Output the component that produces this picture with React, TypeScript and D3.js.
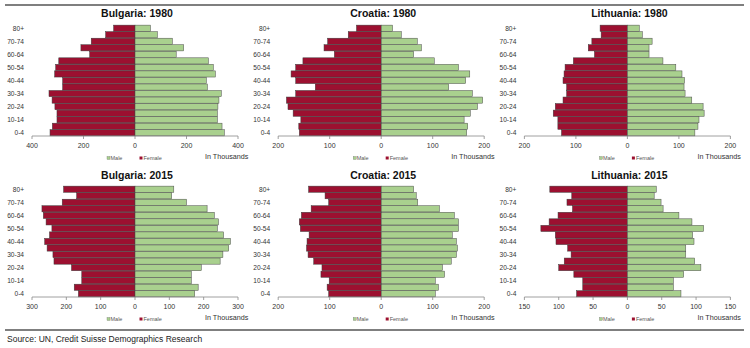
import React from "react";
import * as d3 from "d3";

const ageGroups = ["0-4","5-9","10-14","15-19","20-24","25-29","30-34","35-39","40-44","45-49","50-54","55-59","60-64","65-69","70-74","75-79","80+"];

const bulgaria1980Female = [330,321,303,303,311,322,334,281,281,312,308,296,176,210,170,114,83];
const bulgaria1980Male = [347,338,320,320,322,326,335,281,277,312,304,285,160,189,145,87,60];
const croatia1980Female = [159,160,156,171,181,184,166,128,166,175,166,152,91,111,104,64,48];
const croatia1980Male = [166,168,161,173,187,197,177,131,164,172,150,103,63,78,70,39,22];
const lithuania1980Female = [128,135,135,144,140,125,118,118,125,123,121,105,64,76,69,51,53];
const lithuania1980Male = [131,137,139,149,147,125,112,110,111,106,94,69,42,42,48,29,23];
const bulgaria2015Female = [165,177,155,155,185,236,239,256,263,249,242,259,267,271,212,170,208];
const bulgaria2015Male = [174,184,164,164,193,248,256,273,278,258,240,243,231,210,150,107,113];
const croatia2015Female = [102,105,101,117,115,131,142,145,144,140,157,159,155,136,102,109,141];
const croatia2015Male = [105,111,105,123,119,136,146,148,146,138,150,150,142,113,71,68,63];
const lithuania2015Female = [74,65,65,78,100,92,82,87,104,105,126,114,101,80,88,81,113];
const lithuania2015Male = [78,67,67,82,107,98,85,85,97,95,111,94,75,52,49,39,42];

const titles = ["Bulgaria: 1980","Croatia: 1980","Lithuania: 1980","Bulgaria: 2015","Croatia: 2015","Lithuania: 2015"];
const axisMax = [400, 200, 200, 300, 200, 150];
const tickStep = [200, 100, 100, 100, 100, 50];
const femaleSeries = [bulgaria1980Female, croatia1980Female, lithuania1980Female, bulgaria2015Female, croatia2015Female, lithuania2015Female];
const maleSeries = [bulgaria1980Male, croatia1980Male, lithuania1980Male, bulgaria2015Male, croatia2015Male, lithuania2015Male];
const legendLabels = ["Male", "Female"];
const unitLabel = "In Thousands";
const sourceText = "Source: UN, Credit Suisse Demographics Research";

const FEMALE = "#9C1030";
const MALE = "#A9D08E";
const FONT = "'Liberation Sans', Arial, sans-serif";

function Panel({ idx }: { idx: number }) {
  const col = idx % 3;
  const row = Math.floor(idx / 3);
  const cx = 135 + col * 246.2;
  const top = row === 0 ? 25 : 186;
  const bottom = row === 0 ? 136 : 297;
  const half = 103;
  const maxV = axisMax[idx];
  const x = d3.scaleLinear().domain([-maxV, maxV]).range([cx - half, cx + half]);
  const y = d3.scaleBand<string>().domain([...ageGroups].reverse()).range([top, bottom]).paddingInner(0.06).paddingOuter(0.02);
  const ticks = d3.range(-maxV, maxV + 0.001, tickStep[idx]);
  const fem = femaleSeries[idx];
  const mal = maleSeries[idx];
  const titleY = row === 0 ? 17 : 179;
  return (
    <g>
      <text x={cx + 2} y={titleY} textAnchor="middle" fontFamily={FONT} fontWeight="bold" fontSize={10.5} fill="#111">{titles[idx]}</text>
      {ageGroups.map((a, i) => (
        <rect key={"f" + a} x={x(-fem[i])} y={y(a)!} width={x(0) - x(-fem[i])} height={y.bandwidth()} fill={FEMALE} stroke="#3a3a3a" strokeWidth={0.5} />
      ))}
      {ageGroups.map((a, i) => (
        <rect key={"m" + a} x={x(0)} y={y(a)!} width={x(mal[i]) - x(0)} height={y.bandwidth()} fill={MALE} stroke="#4a4a4a" strokeWidth={0.5} />
      ))}
      {ageGroups.map((a, i) => i % 2 === 0 ? (
        <text key={"l" + a} x={cx - half - 8} y={y(a)! + y.bandwidth() / 2 + 2.3} textAnchor="end" fontFamily={FONT} fontSize={6.6} fill="#333">{a}</text>
      ) : null)}
      <line x1={cx - half} x2={cx + half} y1={bottom} y2={bottom} stroke="#888" strokeWidth={0.8} />
      {ticks.map((t) => (
        <g key={"t" + t}>
          <line x1={x(t)} x2={x(t)} y1={bottom} y2={bottom + 3} stroke="#888" strokeWidth={0.8} />
          <text x={x(t)} y={bottom + 11.5} textAnchor="middle" fontFamily={FONT} fontSize={7} fill="#333">{Math.abs(t)}</text>
        </g>
      ))}
      <rect x={cx - 28} y={bottom + 20.5} width={3} height={3} fill={MALE} stroke="#666" strokeWidth={0.3} />
      <text x={cx - 24.5} y={bottom + 24} fontFamily={FONT} fontSize={5.5} fill="#555">{legendLabels[0]}</text>
      <rect x={cx + 4.5} y={bottom + 20.5} width={3} height={3} fill={FEMALE} />
      <text x={cx + 8.5} y={bottom + 24} fontFamily={FONT} fontSize={5.5} fill="#555">{legendLabels[1]}</text>
      <text x={cx + 70} y={bottom + 22.5} fontFamily={FONT} fontSize={7.2} fill="#333">{unitLabel}</text>
    </g>
  );
}

export default function App() {
  return (
    <svg width={750} height={348} style={{ position: "absolute", left: 0, top: 0, background: "#fff" }}>
      <line x1={5} x2={744} y1={5} y2={5} stroke="#555" strokeWidth={1.5} />
      {titles.map((_, i) => <Panel key={i} idx={i} />)}
      <line x1={5} x2={744} y1={330} y2={330} stroke="#555" strokeWidth={1.5} />
      <text x={7} y={341.5} fontFamily={FONT} fontSize={8.5} fill="#222">{sourceText}</text>
    </svg>
  );
}
